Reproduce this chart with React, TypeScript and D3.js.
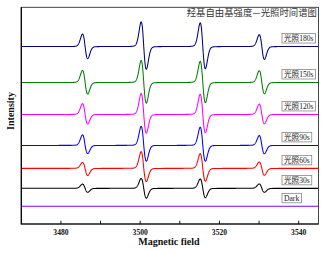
import React, { useEffect, useRef } from "react";
import * as d3 from "d3";

// ---- data ----
const seriesLabels = ["光照180s", "光照150s", "光照120s", "光照90s", "光照60s", "光照30s", "Dark"];
const seriesColors = ["#000080", "#008000", "#FF00FF", "#0000FF", "#FF0000", "#000000", "#8000FF"];
// vertical offset of each trace (arbitrary intensity units)
const seriesOffsets = [177.7, 141.7, 109.7, 78.7, 55.7, 35.7, 17.7];
// DMPO-OH quartet line centres (G)
const peakCenters = [3486.1, 3500.9, 3515.8, 3530.7];
// positive lobe heights per series, per line
const peakUp = [
  [12.7, 25.0, 24.0, 12.0],
  [12.3, 22.4, 21.5, 12.0],
  [11.0, 21.3, 20.5, 10.5],
  [10.7, 19.3, 18.5, 10.0],
  [6.0, 17.0, 15.0, 6.5],
  [4.3, 10.0, 9.5, 4.5],
  [0, 0, 0, 0],
];
// negative lobe depths per series, per line
const peakDown = [
  [12.3, 23.0, 22.5, 13.0],
  [11.7, 21.0, 20.5, 11.5],
  [9.7, 19.0, 18.5, 9.5],
  [8.3, 16.0, 16.0, 8.5],
  [7.3, 13.4, 13.0, 7.0],
  [4.0, 10.0, 9.5, 4.0],
  [0, 0, 0, 0],
];
const lineSigma = 0.68; // G
const fieldDomain = [3470, 3545];
const intensityDomain = [0, 217];
const majorTicks = [3480, 3500, 3520, 3540];
const minorTicks = [3490, 3510, 3530];
const titleText = "羟基自由基强度—光照时间谱图";
const xTitle = "Magnetic field";
const yTitle = "Intensity";

const W = 324;
const H = 254;
const M = { left: 21.3, right: 318.5, top: 7.3, bottom: 224 };

function lineShape(u: number): number {
  // normalized first-derivative lineshape (mostly Gaussian, small Lorentzian part), +1 at left extreme
  const gau = (-u * Math.exp(-0.5 * u * u)) / 0.6065;
  const lu = u / 1.2;
  const lor = (-lu / Math.pow(1 + lu * lu, 2)) / 0.3248;
  return 0.85 * gau + 0.15 * lor;
}

export default function App() {
  const ref = useRef<SVGSVGElement>(null);

  useEffect(() => {
    const svg = d3.select(ref.current);
    svg.selectAll("*").remove();

    const x = d3.scaleLinear().domain(fieldDomain).range([M.left, M.right]);
    const y = d3.scaleLinear().domain(intensityDomain).range([M.bottom, M.top]);

    svg.append("rect").attr("width", W).attr("height", H).attr("fill", "#fff");

    const g = svg.append("g");
    const clip = svg.append("clipPath").attr("id", "plotclip");
    clip
      .append("rect")
      .attr("x", M.left)
      .attr("y", M.top)
      .attr("width", M.right - M.left)
      .attr("height", M.bottom - M.top);

    const fields = d3.range(fieldDomain[0], fieldDomain[1] + 0.001, 0.04);

    const line = d3
      .line<[number, number]>()
      .x((d) => x(d[0]))
      .y((d) => y(d[1]));

    seriesLabels.forEach((_, si) => {
      const pts: [number, number][] = fields.map((b) => {
        let v = seriesOffsets[si];
        peakCenters.forEach((c, pi) => {
          const u = (b - c) / lineSigma;
          const s = lineShape(u);
          v += s >= 0 ? peakUp[si][pi] * s : peakDown[si][pi] * s;
        });
        return [b, v];
      });
      g.append("path")
        .attr("d", line(pts))
        .attr("fill", "none")
        .attr("stroke", seriesColors[si])
        .attr("stroke-width", 1.05)
        .attr("clip-path", "url(#plotclip)");
    });

    // legend boxes
    seriesLabels.forEach((lab, si) => {
      const by = y(seriesOffsets[si]) - 3.5;
      const grp = svg.append("g");
      const rect = grp.append("rect");
      const t = grp
        .append("text")
        .attr("x", 284)
        .attr("y", by - 2.2)
        .attr("font-family", "'Liberation Serif', 'Noto Sans CJK SC', serif")
        .attr("font-size", 7.6)
        .attr("fill", "#222")
        .text(lab);
      const bb = (t.node() as SVGTextElement).getBBox();
      rect
        .attr("x", bb.x - 2)
        .attr("y", by - 9.5)
        .attr("width", bb.width + 4)
        .attr("height", 9.5)
        .attr("fill", "#fff")
        .attr("stroke", "#777")
        .attr("stroke-width", 0.7);
    });

    // frame
    svg
      .append("rect")
      .attr("x", M.left)
      .attr("y", M.top)
      .attr("width", M.right - M.left)
      .attr("height", M.bottom - M.top)
      .attr("fill", "none")
      .attr("stroke", "#333")
      .attr("stroke-width", 0.9);
    svg
      .append("path")
      .attr("d", `M${M.left},${M.top}V${M.bottom}H${M.right}`)
      .attr("fill", "none")
      .attr("stroke", "#000")
      .attr("stroke-width", 1.2);

    // ticks (inward)
    [...majorTicks, ...minorTicks].forEach((t) => {
      svg
        .append("line")
        .attr("x1", x(t))
        .attr("x2", x(t))
        .attr("y1", M.bottom)
        .attr("y2", M.bottom - 3.3)
        .attr("stroke", "#000")
        .attr("stroke-width", 0.9);
    });
    majorTicks.forEach((t) => {
      svg
        .append("text")
        .attr("x", x(t))
        .attr("y", 234.5)
        .attr("text-anchor", "middle")
        .attr("font-family", "'Liberation Serif', serif")
        .attr("font-weight", "bold")
        .attr("font-size", 7.6)
        .attr("fill", "#111")
        .text(String(t));
    });

    svg
      .append("text")
      .attr("x", (M.left + M.right) / 2 - 1)
      .attr("y", 245)
      .attr("text-anchor", "middle")
      .attr("font-family", "'Liberation Serif', serif")
      .attr("font-weight", "bold")
      .attr("font-size", 10)
      .attr("fill", "#111")
      .text(xTitle);

    svg
      .append("text")
      .attr("transform", `translate(13.5,111) rotate(-90)`)
      .attr("text-anchor", "middle")
      .attr("font-family", "'Liberation Serif', serif")
      .attr("font-weight", "bold")
      .attr("font-size", 10)
      .attr("fill", "#111")
      .text(yTitle);

    svg
      .append("text")
      .attr("x", 317)
      .attr("y", 16.3)
      .attr("text-anchor", "end")
      .attr("font-family", "'Noto Sans CJK SC', sans-serif")
      .attr("font-size", 9.4)
      .attr("fill", "#333")
      .text(titleText);
  }, []);

  return (
    <svg
      ref={ref}
      width={W}
      height={H}
      style={{ position: "absolute", left: 0, top: 0, display: "block" }}
    />
  );
}
